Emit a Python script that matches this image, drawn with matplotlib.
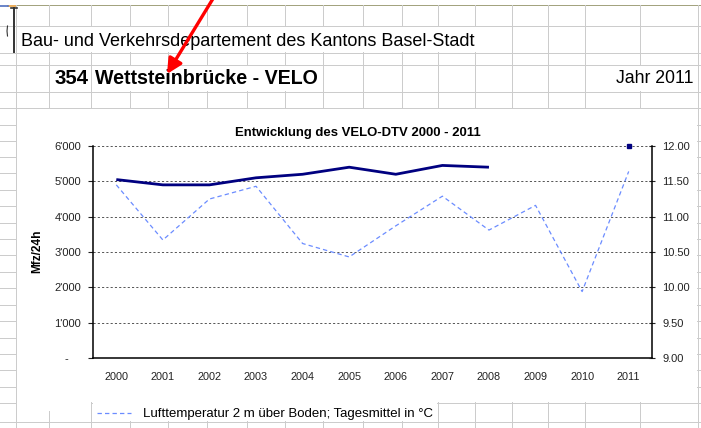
import numpy as np
import matplotlib
matplotlib.use("Agg")
import matplotlib.pyplot as plt
from matplotlib.ticker import FuncFormatter, MultipleLocator

plt.rcParams['font.family'] = ['Liberation Sans', 'DejaVu Sans']

# ---- data ----
years = ['2000', '2001', '2002', '2003', '2004', '2005', '2006', '2007', '2008', '2009', '2010', '2011']
velo_dtv = [5050, 4900, 4900, 5100, 5200, 5400, 5200, 5450, 5400, np.nan, np.nan, 6000]
temperature = [11.45, 10.67, 11.25, 11.43, 10.62, 10.43, 10.87, 11.29, 10.81, 11.16, 9.94, 11.64]

header1 = "Bau- und Verkehrsdepartement des Kantons Basel-Stadt"
header2_num = "354"
header2_name = "Wettsteinbrücke - VELO"
header_year = "Jahr 2011"
chart_title = "Entwicklung des VELO-DTV 2000 - 2011"
y_label = "Mfz/24h"
legend_label = "Lufttemperatur 2 m über Boden; Tagesmittel in °C"

W, H = 701, 428
fig = plt.figure(figsize=(W / 100, H / 100), dpi=100)
renderer = fig.canvas.get_renderer()

bg = fig.add_axes([0, 0, 1, 1])
bg.set_xlim(0, W)
bg.set_ylim(H, 0)
bg.axis('off')

grid_c = '#cccccc'
lw_px = 0.72

cols = [16, 49, 91, 130, 168, 207, 247, 285, 323, 363, 402, 438, 475, 512, 548, 585, 640, 698]
rows = [26, 53, 65, 92, 108, 125, 141, 157, 173, 190, 206, 223, 239, 255, 272, 288, 305, 321,
        338, 354, 370, 387, 403, 422]

# horizontal cell lines
for r in rows:
    bg.plot([0, W], [r, r], color=grid_c, lw=lw_px, zorder=1)
bg.plot([16, W], [5, 5], color='#a3a37f', lw=lw_px, zorder=1)
bg.plot([8, 16], [6, 6], color='#e8a040', lw=1.2, zorder=1)
bg.plot([0, 8], [6, 6], color='#5070c0', lw=1.2, zorder=1)

# vertical cell lines
for c in cols:
    bg.plot([c, c], [5, H], color=grid_c, lw=lw_px, zorder=1)


def cover(x0, x1, y0, y1):
    bg.add_patch(plt.Rectangle((x0, y0), x1 - x0, y1 - y0, facecolor='white',
                               edgecolor='none', zorder=2))


cover(17, 490, 26.6, 52.4)     # row with department name
cover(92, 322, 65.6, 91.4)     # row with station name
cover(586, 697, 65.6, 91.4)    # row with year
cover(17, 697, 108.6, 402.4)   # chart area
cover(17, 91, 402, 411)
cover(93, 437, 402, 421.4)     # legend box

# I-beam cursor
bg.plot([13.5, 13.5], [8, 52], color='#333333', lw=1.4, zorder=3)
bg.plot([11, 17], [8, 8], color='#333333', lw=1.2, zorder=3)
bg.plot([7.5, 7, 7.5], [26, 31, 36], color='#333333', lw=0.8, zorder=3)


def fit_text(ax, x, y, s, width, vertical=False, **kw):
    t = ax.text(x, y, s, **kw)
    ext = t.get_window_extent(renderer)
    w = ext.height if vertical else ext.width
    t.set_fontsize(t.get_fontsize() * width / w)
    return t


fit_text(bg, 21, 41, header1, 455, ha='left', va='center', fontsize=12, zorder=4)
fit_text(bg, 89, 78, header2_num, 34, ha='right', va='center', fontsize=12,
         fontweight='bold', zorder=4)
fit_text(bg, 95, 78, header2_name, 223, ha='left', va='center', fontsize=12,
         fontweight='bold', zorder=4)
fit_text(bg, 694, 78, header_year, 77, ha='right', va='center', fontsize=11, zorder=4)

# red arrow
bg.annotate('', xy=(167, 74), xytext=(214, -3),
            arrowprops=dict(arrowstyle='-|>,head_length=0.9,head_width=0.45',
                            color='#ff0000', lw=2.4, shrinkA=0, shrinkB=0),
            zorder=6)

# ---- chart ----
ax = fig.add_axes([93 / W, 1 - 358 / H, 559 / W, 212 / H])
ax.set_facecolor('none')
x = np.arange(len(years))
ax.set_xlim(-0.5, len(years) - 0.5)
ax.set_ylim(0, 6000)
ax.yaxis.set_major_locator(MultipleLocator(1000))


def thousands(v, pos):
    if abs(v) < 1e-9:
        return "-    "
    return f"{v:,.0f}".replace(",", "'")


ax.yaxis.set_major_formatter(FuncFormatter(thousands))
ax.set_xticks(x)
ax.set_xticklabels(years)
ax.tick_params(axis='x', length=0, pad=10, labelsize=7.8, colors='#222222')
ax.tick_params(axis='y', direction='out', length=3.5, width=0.8, pad=5, labelsize=8,
               colors='#222222')
ax.yaxis.grid(True, color='#555555', linestyle=(0, (2.2, 2.2)), lw=0.7)
ax.set_axisbelow(True)
for s in ['top', 'right']:
    ax.spines[s].set_visible(False)
for s in ['left', 'bottom']:
    ax.spines[s].set_color('black')
    ax.spines[s].set_linewidth(1.1)

velo_arr = np.array(velo_dtv, dtype=float)
ax.plot(x, velo_arr, color='#000080', lw=2.0, solid_capstyle='butt', zorder=3)
iso = [i for i in range(len(velo_arr)) if not np.isnan(velo_arr[i]) and
       (i == 0 or np.isnan(velo_arr[i - 1])) and
       (i == len(velo_arr) - 1 or np.isnan(velo_arr[i + 1]))]
ax.plot(x[iso], velo_arr[iso], linestyle='none', marker='s', markersize=3.2,
        color='#000080', clip_on=False, zorder=4)

ax2 = ax.twinx()
ax2.set_ylim(9, 12)
ax2.yaxis.set_major_locator(MultipleLocator(0.5))
ax2.yaxis.set_major_formatter(FuncFormatter(lambda v, p: f"{v:.2f}"))
ax2.tick_params(axis='y', direction='inout', length=5, width=0.8, pad=5, labelsize=8,
                colors='#222222')
for s in ['top', 'left', 'bottom']:
    ax2.spines[s].set_visible(False)
ax2.spines['right'].set_color('black')
ax2.spines['right'].set_linewidth(1.1)
ax2.plot(x, temperature, color='#6b8cff', lw=0.9, linestyle=(0, (3.5, 2.5)), zorder=3)

# y axis label (vertical, bold)
fit_text(bg, 37.5, 251, y_label, 44, vertical=True, ha='center', va='center',
         rotation=90, fontsize=8, fontweight='bold', zorder=4)

fit_text(bg, 358, 133, chart_title, 247, ha='center', va='center', fontsize=8,
         fontweight='bold', zorder=4)

# legend
bg.plot([97, 131], [413, 413], color='#6b8cff', lw=0.9, linestyle=(0, (3.5, 2.5)), zorder=4)
fit_text(bg, 143, 413.5, legend_label, 291, ha='left', va='center', fontsize=9, zorder=4)

fig.savefig('out.png', dpi=100)
